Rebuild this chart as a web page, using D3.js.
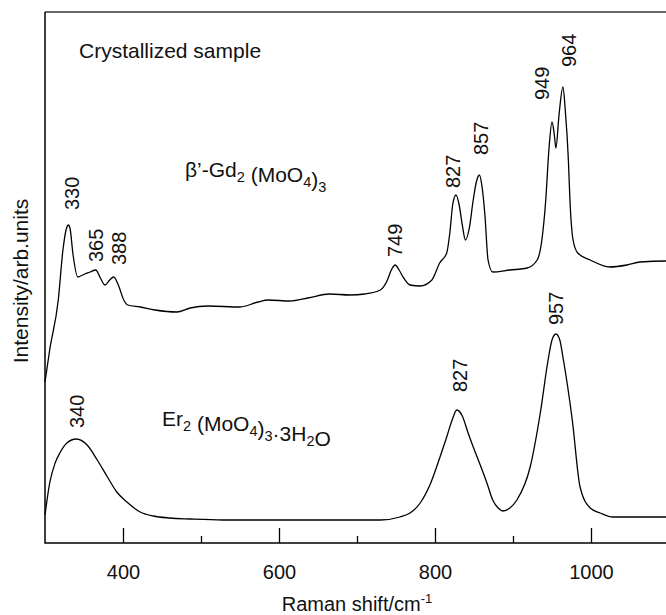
<!DOCTYPE html>
<html lang="en">
<head>
<meta charset="utf-8">
<title>Raman spectra</title>
<script src="https://d3js.org/d3.v7.min.js"></script>
<style type="text/css">
  body { margin: 0; background: #ffffff; }
  svg text { font-family: "Liberation Sans", Arial, sans-serif; fill: #111; }
  .spectrum { fill: none; stroke: #000; stroke-width: 1.3; }
  .frame { fill: none; stroke: #000; stroke-width: 1.5; }
  .frame_top { stroke: #333; stroke-width: 1.5; }
  .axis path { display: none; }
  .axis line { stroke: #000; stroke-width: 1.3; }
  .axis text { font-size: 20px; }
</style>
</head>
<body>
<script type="text/javascript">
// Raman shift (cm-1) and intensity (arb. units)
var gdShift = [300, 306, 317, 323, 327, 330, 332, 336, 342, 351, 358, 365, 371, 377, 383, 388, 394, 401, 406,
  422, 441, 469, 486, 509, 550, 573, 586, 614, 637, 665, 691, 710, 730, 739, 744, 749, 754, 759, 768, 781,
  796, 806, 815, 819, 823, 827, 831, 835, 839, 844, 849, 853, 857, 860, 864, 868, 874, 896, 918, 931, 937,
  942, 946, 950, 953, 955, 959, 964, 967, 971, 973, 977, 983, 999, 1024, 1046, 1063, 1096, 1100];
var gdIntensity = [161, 193, 243, 293, 313, 318, 315, 288, 266, 269, 271, 273, 265, 258, 263, 266, 258, 243, 238,
  236, 233, 231, 235, 237, 236, 241, 243, 242, 245, 249, 248, 249, 253, 263, 273, 278, 273, 266, 258, 257,
  263, 280, 290, 310, 340, 348, 338, 318, 303, 315, 343, 361, 368, 358, 328, 283, 271, 273, 275, 283, 303,
  343, 393, 421, 408, 395, 428, 456, 433, 383, 343, 303, 290, 283, 276, 278, 281, 282, 282];

var erShift = [300, 306, 313, 319, 328, 340, 354, 367, 380, 392, 405, 422, 439, 460, 486, 528, 592, 653, 700,
  730, 755, 768, 781, 794, 806, 815, 822, 828, 835, 842, 850, 858, 867, 874, 881, 887, 896, 905, 922, 935,
  945, 950, 955, 960, 964, 976, 986, 999, 1012, 1028, 1063, 1100];
var erIntensity = [28, 60, 80, 90, 100, 104, 98, 83, 66, 51, 41, 31, 27, 25, 24, 23, 23, 23, 23,
  23, 26, 30, 40, 59, 85, 106, 123, 133, 127, 111, 94, 78, 59, 43, 35, 32, 35, 43, 76, 130,
  183, 203, 209, 203, 186, 123, 56, 35, 30, 26, 26, 26];

var gdPeaks = [330, 365, 388, 749, 827, 857, 949, 964];
var erPeaks = [340, 827, 957];

var majorTicks = [400, 600, 800, 1000];
var minorTicks = [500, 700, 900];

var svgWidth = 666, svgHeight = 615;
var margin = {left: 45, top: 12};
var plotWidth = 624, plotHeight = 531;

var x = d3.scaleLinear().domain([300, 1100]).range([margin.left, margin.left + plotWidth]);
var y = d3.scaleLinear().domain([0, 531]).range([margin.top + plotHeight, margin.top]);

var svg = d3.select("body").append("svg")
  .attr("width", svgWidth)
  .attr("height", svgHeight);

function toPoints(xs, ys) {
  return xs.map(function(d, i) { return [d, ys[i]]; });
}
var gdData = toPoints(gdShift, gdIntensity);
var erData = toPoints(erShift, erIntensity);

var line = d3.line()
  .x(function(d) { return x(d[0]); })
  .y(function(d) { return y(d[1]); })
  .curve(d3.curveMonotoneX);

svg.append("path").attr("class", "spectrum").attr("d", line(gdData));
svg.append("path").attr("class", "spectrum").attr("d", line(erData));

// frame: left + bottom black, top a bit lighter (right edge is outside the picture)
var bottom = margin.top + plotHeight;
svg.append("line").attr("class", "frame_top")
  .attr("x1", margin.left).attr("x2", margin.left + plotWidth)
  .attr("y1", margin.top).attr("y2", margin.top);
svg.append("path").attr("class", "frame")
  .attr("d", "M" + margin.left + "," + margin.top + "V" + bottom + "H" + (margin.left + plotWidth) + "V" + margin.top);

// ticks point inward
svg.append("g").attr("class", "axis")
  .attr("transform", "translate(0," + bottom + ")")
  .call(d3.axisBottom(x).tickValues(majorTicks).tickSize(-15).tickPadding(22).tickFormat(d3.format("d")));
svg.append("g").attr("class", "axis")
  .attr("transform", "translate(0," + bottom + ")")
  .call(d3.axisBottom(x).tickValues(minorTicks).tickSize(-7).tickFormat(""));

// axis titles
var xTitle = svg.append("text")
  .attr("x", (x(300) + x(1100)) / 2)
  .attr("y", 611)
  .attr("text-anchor", "middle")
  .style("font-size", "20px");
xTitle.append("tspan").text("Raman shift/cm");
xTitle.append("tspan").attr("dy", -8).style("font-size", "13px").text("-1");

svg.append("text")
  .attr("transform", "translate(28,281) rotate(-90)")
  .attr("text-anchor", "middle")
  .style("font-size", "21px")
  .text("Intensity/arb.units");

svg.append("text")
  .attr("x", 79).attr("y", 58)
  .style("font-size", "21px")
  .text("Crystallized sample");

// sample names with subscripts
function formula(xPos, yPos, parts) {
  var t = svg.append("text").attr("x", xPos).attr("y", yPos).style("font-size", "21px");
  parts.forEach(function(p) {
    if (p.sub) {
      t.append("tspan").attr("dy", 5).style("font-size", "14.5px").text(p.s);
      t.append("tspan").attr("dy", -5).text("");
    } else {
      t.append("tspan").text(p.s);
    }
  });
}
formula(185, 177, [{s: "\u03b2\u2019-Gd"}, {s: "2", sub: true}, {s: " (MoO"}, {s: "4", sub: true},
  {s: ")"}, {s: "3", sub: true}]);
formula(162, 426, [{s: "Er"}, {s: "2", sub: true}, {s: " (MoO"}, {s: "4", sub: true}, {s: ")"},
  {s: "3", sub: true}, {s: "\u00b73H"}, {s: "2", sub: true}, {s: "O"}]);

// peak labels, placed above each maximum
function peakValue(data, p) {
  var best = data[0];
  data.forEach(function(d) { if (Math.abs(d[0] - p) < Math.abs(best[0] - p)) best = d; });
  return best[1];
}
var gdGap = [15, 8, 12, 8, 7, 20, 22, 20];
var gdDx = [4, 0, 5, 0, -3, 2, -9, 6];
var erGap = [11, 18, 9];
var erDx = [1, 4, -1];

function peakLabels(data, peaks, gaps, dxs) {
  svg.selectAll(null)
    .data(peaks)
    .enter()
    .append("text")
    .attr("transform", function(d, i) {
      return "translate(" + (x(d) + dxs[i]) + "," + (y(peakValue(data, d)) - gaps[i]) + ") rotate(-90)";
    })
    .attr("dy", "0.35em")
    .style("font-size", "20px")
    .text(function(d) { return d; });
}
peakLabels(gdData, gdPeaks, gdGap, gdDx);
peakLabels(erData, erPeaks, erGap, erDx);
</script>
</body>
</html>
